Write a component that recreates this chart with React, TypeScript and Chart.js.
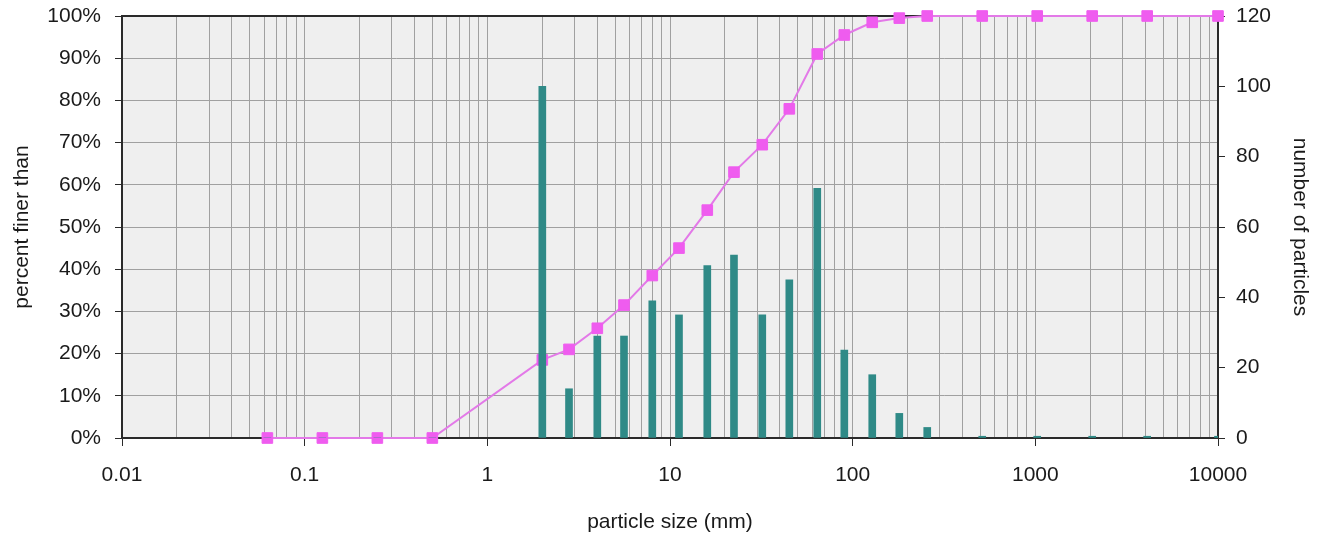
import React, { useEffect, useRef } from "react";
import { Chart, registerables } from "chart.js";

Chart.register(...registerables);

const particleSizes = [0.0625, 0.125, 0.25, 0.5, 2, 2.8, 4, 5.6, 8, 11.2, 16, 22.4, 32, 45, 64, 90, 128, 180, 256, 512, 1024, 2048, 4096, 10000];
const percentFiner = [0, 0, 0, 0, 18.5, 21, 26, 31.5, 38.5, 45, 54, 63, 69.5, 78, 91, 95.5, 98.5, 99.5, 100, 100, 100, 100, 100, 100];
const particleCounts = [0, 0, 0, 0, 100, 14, 29, 29, 39, 35, 49, 52, 35, 45, 71, 25, 18, 7, 3, 0.5, 0.5, 0.5, 0.5, 0.5];
const xDecades = [0.01, 0.1, 1, 10, 100, 1000, 10000];
const xTickLabels = ["0.01", "0.1", "1", "10", "100", "1000", "10000"];

const FONT = "'Liberation Sans', Arial, Helvetica, sans-serif";
const TEXT = "#1a1a1a";
const GRID = "#a0a0a0";
const AXIS = "#2a2a2a";
const FS = 21;

const isDecade = (v: number) => {
  const l = Math.log10(v);
  return Math.abs(l - Math.round(l)) < 1e-6;
};

const decadeLabel = (v: number) => {
  for (let i = 0; i < xDecades.length; i++) {
    if (Math.abs(Math.log10(v) - Math.log10(xDecades[i])) < 1e-6) return xTickLabels[i];
  }
  return "";
};

const plotPlugin = {
  id: "plotDecor",
  beforeDraw(chart: any) {
    const { ctx, chartArea } = chart;
    ctx.save();
    ctx.fillStyle = "#efefef";
    ctx.fillRect(chartArea.left, chartArea.top, chartArea.right - chartArea.left, chartArea.bottom - chartArea.top);
    ctx.restore();
  },
  beforeDatasetsDraw(chart: any) {
    const { ctx, chartArea } = chart;
    ctx.save();
    ctx.strokeStyle = AXIS;
    ctx.lineWidth = 2;
    ctx.beginPath();
    ctx.moveTo(chartArea.left, chartArea.top);
    ctx.lineTo(chartArea.right, chartArea.top);
    ctx.stroke();
    ctx.restore();
  },
};

export default function App() {
  const ref = useRef<HTMLCanvasElement | null>(null);

  useEffect(() => {
    document.body.style.margin = "0";
    const canvas = ref.current;
    if (!canvas) return;

    const barData = particleSizes.map((x, i) => ({ x, y: particleCounts[i] }));
    const lineData = particleSizes.map((x, i) => ({ x, y: percentFiner[i] }));

    const chart = new Chart(canvas, {
      type: "bar",
      data: {
        datasets: [
          {
            type: "bar",
            label: "number of particles",
            data: barData as any,
            yAxisID: "y2",
            backgroundColor: "#2f8a87",
            borderWidth: 0,
            barThickness: 7,
            order: 0,
          } as any,
          {
            type: "line",
            label: "percent finer than",
            data: lineData as any,
            yAxisID: "y",
            borderColor: "#e379e8",
            borderWidth: 2,
            pointStyle: "rect",
            pointRadius: 7.5,
            pointBackgroundColor: "#ef5cef",
            pointBorderColor: "#ef5cef",
            pointBorderWidth: 1,
            tension: 0,
            clip: false,
            order: 1,
          } as any,
        ],
      },
      options: {
        responsive: false,
        animation: false,
        devicePixelRatio: 1,
        layout: { padding: { top: 16, left: 0, right: 0, bottom: 0 } },
        plugins: {
          legend: { display: false },
          tooltip: { enabled: false },
        },
        font: { family: FONT },
        scales: {
          x: {
            type: "logarithmic",
            min: 0.01,
            max: 10000,
            offset: false,
            afterBuildTicks: (scale: any) => {
              const ticks: any[] = [];
              for (let e = -2; e <= 3; e++) {
                for (let s = 1; s <= 9; s++) {
                  ticks.push({ value: parseFloat((s * Math.pow(10, e)).toPrecision(6)) });
                }
              }
              ticks.push({ value: 10000 });
              scale.ticks = ticks;
            },
            afterFit: (scale: any) => {
              scale.height = 102;
            },
            grid: {
              offset: false,
              color: GRID,
              lineWidth: 1,
              drawTicks: true,
              tickLength: 8,
              tickColor: (c: any) => (c.tick && isDecade(c.tick.value) ? AXIS : "rgba(0,0,0,0)"),
            },
            border: { display: true, color: AXIS, width: 2 },
            ticks: {
              autoSkip: false,
              maxRotation: 0,
              minRotation: 0,
              padding: 17,
              color: TEXT,
              font: { family: FONT, size: FS },
              callback: (v: any) => (isDecade(Number(v)) ? decadeLabel(Number(v)) : ""),
            },
            title: {
              display: true,
              text: "particle size (mm)",
              color: TEXT,
              font: { family: FONT, size: FS },
              padding: { top: 0, bottom: 5 },
            },
          },
          y: {
            type: "linear",
            position: "left",
            min: 0,
            max: 100,
            afterFit: (scale: any) => {
              scale.width = 122;
              scale.paddingTop = 0;
              scale.paddingBottom = 0;
            },
            grid: {
              color: GRID,
              lineWidth: 1,
              drawTicks: true,
              tickLength: 7,
              tickColor: AXIS,
            },
            border: { display: true, color: AXIS, width: 2 },
            ticks: {
              stepSize: 10,
              padding: 14,
              color: TEXT,
              font: { family: FONT, size: FS },
              callback: (v: any) => `${v}%`,
            },
            title: {
              display: true,
              text: "percent finer than",
              color: TEXT,
              font: { family: FONT, size: FS },
              padding: { top: 10, bottom: 0 },
            },
          },
          y2: {
            type: "linear",
            position: "right",
            min: 0,
            max: 120,
            afterFit: (scale: any) => {
              scale.width = 108;
              scale.paddingTop = 0;
              scale.paddingBottom = 0;
            },
            grid: {
              drawOnChartArea: false,
              drawTicks: true,
              tickLength: 7,
              tickColor: AXIS,
            },
            border: { display: true, color: AXIS, width: 2 },
            ticks: {
              stepSize: 20,
              padding: 11,
              color: TEXT,
              font: { family: FONT, size: FS },
            },
            title: {
              display: true,
              text: "number of particles",
              color: TEXT,
              font: { family: FONT, size: FS },
              padding: { top: 14, bottom: 0 },
            },
          },
        },
      } as any,
      plugins: [plotPlugin],
    });

    return () => chart.destroy();
  }, []);

  return (
    <div style={{ position: "absolute", left: 0, top: 0, width: 1326, height: 540 }}>
      <canvas ref={ref} width={1326} height={540} style={{ display: "block" }} />
    </div>
  );
}
